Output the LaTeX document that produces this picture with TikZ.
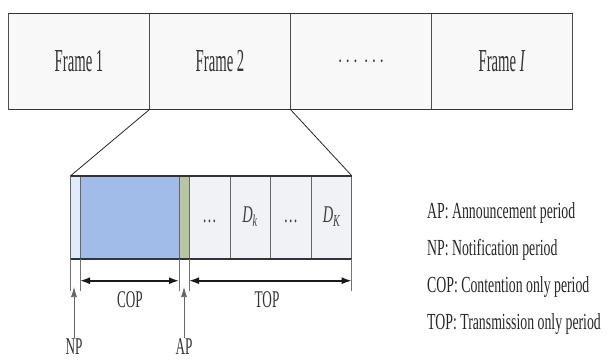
\documentclass[tikz,border=0pt]{standalone}
\usepackage{fontspec}
\setmainfont{Liberation Serif}
\usepackage{graphicx}
\usepackage{tikz}
\usetikzlibrary{arrows.meta,positioning}
\def\narrowtext#1#2{\scalebox{#1}[1]{#2}}

\definecolor{framefill}{RGB}{248,248,248}
\definecolor{npfill}{RGB}{226,236,248}
\definecolor{copfill}{RGB}{162,188,234}
\definecolor{apfill}{RGB}{184,198,164}
\definecolor{topfill}{RGB}{240,242,245}

\tikzset{
	frame/.style={draw=black!70, line width=0.5pt, fill=framefill, minimum width=141pt, minimum height=96pt, inner sep=0pt, outer sep=0pt, font=\fontsize{32}{32}\selectfont, text=black!80},
	seg/.style={draw=black!60, line width=0.5pt, minimum height=83pt, inner sep=0pt, outer sep=0pt, text height=15pt, text depth=4pt, font=\fontsize{24}{24}\selectfont, text=black!75},
	edge/.style={line width=1.6pt, black!80},
	zoomline/.style={line width=0.8pt, black!85},
	tick/.style={line width=0.5pt, black!55},
	dimarrow/.style={line width=1.6pt, black!90, {Latex[length=10pt,width=7pt]}-{Latex[length=10pt,width=7pt]}},
	uparrow/.style={line width=0.6pt, black!60, -{Latex[length=10pt,width=6pt]}},
	lab/.style={inner sep=1pt, font=\fontsize{24}{24}\selectfont, text=black!80},
	legend/.style={anchor=west, inner sep=0pt, font=\fontsize{23}{23}\selectfont, text=black!85}
}

\begin{document}
\begin{tikzpicture}[x=1pt, y=-1pt]
	%%%%% START %%%%%
	\useasboundingbox (0, 0) rectangle (607, 362);
	
	% frame row
	\node[frame, anchor=north west] (f1) at (8.5, 13.5) {\narrowtext{0.46}{Frame 1}};
	\node[frame, right=0pt of f1] (f2) {\narrowtext{0.46}{Frame 2}};
	\node[frame, right=0pt of f2] (f3) {\narrowtext{0.7}{\fontsize{30}{30}\selectfont$\cdots\,\cdots$}};
	\node[frame, right=0pt of f3] (fI) {\narrowtext{0.46}{Frame \textit{I}}};
	\draw[edge] (f1.north west) -- (fI.north east);
	\draw[edge] (f1.south west) -- (fI.south east);
	
	% periods of frame 2
	\node[seg, fill=npfill, minimum width=9.3pt, anchor=north west] (np) at (70.7, 175.7) {};
	\node[seg, fill=copfill, minimum width=99pt, right=0pt of np] (cop) {};
	\node[seg, fill=apfill, minimum width=10pt, right=0pt of cop] (ap) {};
	\node[seg, fill=topfill, minimum width=41pt, right=0pt of ap] (t1) {\narrowtext{0.6}{\dots}};
	\node[seg, fill=topfill, minimum width=40pt, right=0pt of t1] (t2) {\narrowtext{0.6}{\textit{D}\textsubscript{\textit{k}}}};
	\node[seg, fill=topfill, minimum width=41.7pt, right=0pt of t2] (t3) {\narrowtext{0.6}{\dots}};
	\node[seg, fill=topfill, minimum width=40pt, right=0pt of t3] (t4) {\narrowtext{0.6}{\textit{D}\textsubscript{\textit{K}}}};
	\draw[edge] (np.north west) -- (t4.north east);
	\draw[edge] (np.south west) -- (t4.south east);
	
	\draw[zoomline] (f2.south west) -- (np.north west);
	\draw[zoomline] (f2.south east) -- (t4.north east);
	
	% ticks and spans
	\draw[tick] (np.south west) -- ++(0, 32);
	\draw[tick] (cop.south west) -- ++(0, 32);
	\draw[tick] (cop.south east) -- ++(0, 32);
	\draw[tick] (ap.south east) -- ++(0, 32);
	\draw[tick] (t4.south east) -- ++(0, 32);
	\draw[dimarrow] ([yshift=-22pt]cop.south west) -- ([yshift=-22pt]cop.south east);
	\draw[dimarrow] ([yshift=-22pt]ap.south east) -- ([yshift=-22pt]t4.south east);
	\node[lab] (coplab) at (130, 300) {\narrowtext{0.55}{COP}};
	\node[lab] (toplab) at (267, 300) {\narrowtext{0.55}{TOP}};
	
	\node[lab] (nplab) at (74, 347) {\narrowtext{0.55}{NP}};
	\node[lab] (aplab) at (184, 347) {\narrowtext{0.55}{AP}};
	\coordinate (nptip) at (74, 287);
	\coordinate (aptip) at (184, 287);
	\draw[uparrow] (nplab.north) -- (nptip);
	\draw[uparrow] (aplab.north) -- (aptip);
	
	% legend
	\node[legend] (lgap) at (427, 213) {\narrowtext{0.6}{AP: Announcement period}};
	\node[legend] (lgnp) at (427, 250) {\narrowtext{0.6}{NP: Notification period}};
	\node[legend] (lgcop) at (427, 287) {\narrowtext{0.6}{COP: Contention only period}};
	\node[legend] (lgtop) at (427, 324) {\narrowtext{0.6}{TOP: Transmission only period}};
	
	%%%%% END %%%%%
\end{tikzpicture}
\end{document}
